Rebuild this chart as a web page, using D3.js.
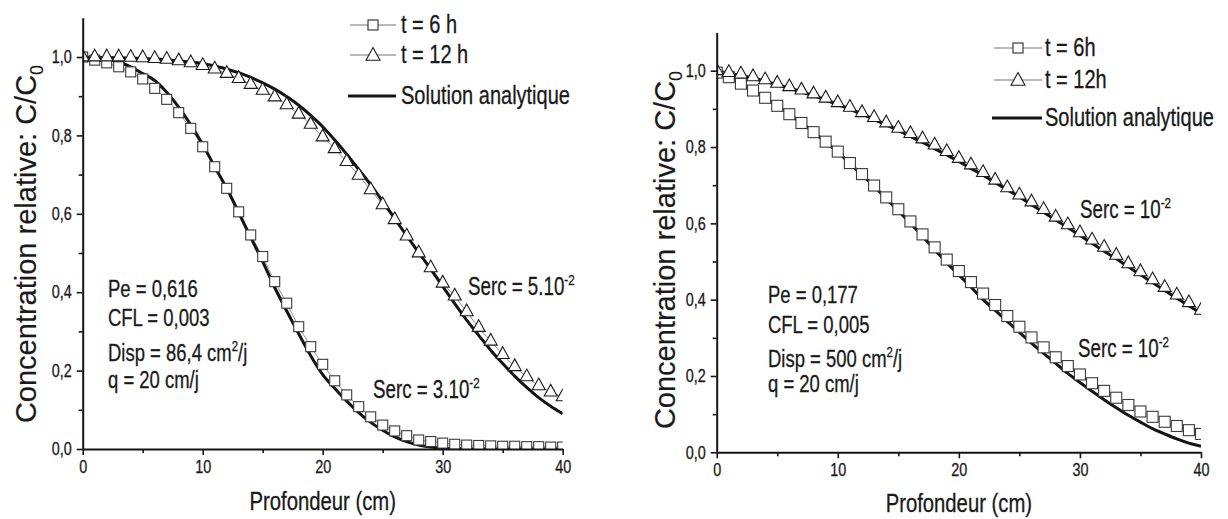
<!DOCTYPE html>
<html>
<head>
<meta charset="utf-8">
<script src="https://cdn.jsdelivr.net/npm/d3@7"></script>
<style>
body { margin: 0; background: #fff; }
svg text { font-family: "Liberation Sans", Arial, sans-serif; fill: #1a1a1a; }
</style>
</head>
<body>
<div id="chart"></div>
<script>
// depth of each computed node (cm)
var depth = [0,1,2,3,4,5,6,7,8,9,10,11,12,13,14,15,16,17,18,19,20,
             21,22,23,24,25,26,27,28,29,30,31,32,33,34,35,36,37,38,39,40];

// left panel: Pe = 0,616
var leftNum6h = [1.0,0.992,0.985,0.975,0.962,0.944,0.920,0.892,0.858,0.818,0.771,
                 0.720,0.665,0.605,0.546,0.491,0.427,0.372,0.312,0.261,0.216,
                 0.174,0.138,0.108,0.082,0.061,0.046,0.034,0.023,0.019,0.015,
                 0.012,0.010,0.009,0.008,0.007,0.007,0.006,0.006,0.005,0.005];
var leftAna6h = [1.0,0.998,0.995,0.988,0.975,0.958,0.940,0.910,0.872,0.827,0.777,
                 0.720,0.665,0.603,0.540,0.478,0.412,0.352,0.294,0.238,0.190,
                 0.155,0.122,0.093,0.068,0.048,0.031,0.019,0.010,0.005,0.002,
                 0.001,0,0,0,0,0,0,0,0,0];
var leftNum12h = [1.0,1.0,1.0,1.0,0.999,0.998,0.996,0.994,0.990,0.985,0.978,
                  0.969,0.958,0.945,0.930,0.915,0.898,0.878,0.854,0.828,0.796,
                  0.766,0.733,0.698,0.661,0.623,0.585,0.543,0.500,0.462,0.423,
                  0.390,0.350,0.310,0.275,0.241,0.210,0.184,0.161,0.145,0.133];
var leftAna12h = [1.0,0.999,0.999,0.998,0.997,0.996,0.995,0.993,0.990,0.987,0.983,
                  0.977,0.969,0.960,0.948,0.934,0.918,0.899,0.877,0.851,0.822,
                  0.788,0.752,0.713,0.674,0.632,0.588,0.544,0.501,0.459,0.415,
                  0.371,0.329,0.290,0.252,0.218,0.186,0.157,0.131,0.109,0.090];

// right panel: Pe = 0,177
var rightNum6h = [0.995,0.983,0.966,0.948,0.929,0.908,0.886,0.863,0.839,0.814,0.788,
                  0.758,0.729,0.699,0.668,0.637,0.605,0.571,0.537,0.505,0.475,
                  0.446,0.416,0.386,0.357,0.329,0.301,0.275,0.249,0.226,0.204,
                  0.181,0.161,0.143,0.124,0.107,0.093,0.080,0.069,0.058,0.048];
var rightAna6h = [1.0,0.984,0.967,0.949,0.929,0.908,0.886,0.863,0.839,0.813,0.787,
                  0.757,0.727,0.697,0.665,0.633,0.600,0.566,0.531,0.497,0.465,
                  0.433,0.400,0.372,0.343,0.314,0.286,0.259,0.233,0.207,0.183,
                  0.160,0.138,0.117,0.097,0.079,0.062,0.048,0.035,0.024,0.016];
var rightNum12h = [1.0,0.995,0.991,0.984,0.976,0.967,0.958,0.949,0.939,0.928,0.916,
                   0.904,0.890,0.877,0.863,0.849,0.835,0.821,0.805,0.788,0.770,
                   0.753,0.733,0.713,0.693,0.674,0.656,0.636,0.616,0.596,0.575,
                   0.556,0.537,0.516,0.494,0.473,0.452,0.432,0.412,0.392,0.372];
var rightAna12h = [1.0,0.993,0.987,0.980,0.972,0.963,0.954,0.944,0.934,0.923,0.911,
                   0.899,0.886,0.872,0.858,0.843,0.828,0.812,0.796,0.779,0.762,
                   0.744,0.726,0.707,0.688,0.669,0.649,0.629,0.609,0.589,0.568,
                   0.548,0.527,0.507,0.486,0.465,0.445,0.424,0.404,0.384,0.364];

var xTicks = [0,10,20,30,40];
var xMinor = [5,15,25,35];
var yTicks = [0,0.2,0.4,0.6,0.8,1.0];
var yMinor = [0.1,0.3,0.5,0.7,0.9];

var leftNotes = [
    [{t:"Pe = 0,616"}],
    [{t:"CFL = 0,003"}],
    [{t:"Disp = 86,4 cm"},{t:"2",sup:true},{t:"/j"}],
    [{t:"q = 20 cm/j"}]
];
var rightNotes = [
    [{t:"Pe = 0,177"}],
    [{t:"CFL = 0,005"}],
    [{t:"Disp = 500 cm"},{t:"2",sup:true},{t:"/j"}],
    [{t:"q = 20 cm/j"}]
];

var W = 1228, H = 519;
var svg = d3.select("#chart").append("svg")
    .attr("width", W).attr("height", H);

// a line of (horizontally condensed) text, with superscripts / subscripts
function richText(g, x, y, parts, size, sx, rot) {
    var t = g.append("text")
        .attr("transform", "translate(" + x + "," + y + ")" + (rot ? " rotate(" + rot + ")" : "") +
              " scale(" + sx + ",1)")
        .style("font-size", size + "px")
        .attr("stroke", "#1a1a1a").attr("stroke-width", 0.3);
    var cur = 0;
    parts.forEach(function(p) {
        var off = p.sup ? -size * 0.42 : (p.sub ? size * 0.25 : 0);
        var s = t.append("tspan").text(p.t);
        if (off - cur !== 0) s.attr("dy", off - cur);
        if (p.sup || p.sub) s.style("font-size", (size * 0.62) + "px");
        cur = off;
    });
    return t;
}

function triPath(cx, cy, w) {
    var h = w * 0.9;
    return "M" + cx + "," + (cy - h * 2 / 3) +
           "L" + (cx + w / 2) + "," + (cy + h / 3) +
           "L" + (cx - w / 2) + "," + (cy + h / 3) + "Z";
}

function drawPanel(p) {
    var g = svg.append("g");
    var x = d3.scaleLinear().domain([0, 40]).range([p.x0, p.x1]);
    var y = d3.scaleLinear().domain([0, 1.1]).range([p.y0, p.y0 - 1.1 * p.unitY]);

    var clipId = "clip" + p.id;
    svg.append("clipPath").attr("id", clipId).append("rect")
        .attr("x", x(0)).attr("y", y(1.1) - 10)
        .attr("width", x(40) - x(0)).attr("height", y(0) - y(1.1) + 10);
    var plot = g.append("g").attr("clip-path", "url(#" + clipId + ")");

    var line = d3.line()
        .x(function(d, i) { return x(depth[i]); })
        .y(function(d) { return y(d); });
    var smooth = d3.line()
        .x(function(d, i) { return x(depth[i]); })
        .y(function(d) { return y(d); })
        .curve(d3.curveMonotoneX);

    // thin lines joining the numerical points
    [p.num6, p.num12].forEach(function(s) {
        plot.append("path").attr("d", line(s))
            .attr("fill", "none").attr("stroke", "#777").attr("stroke-width", 0.8);
    });
    // analytical solution
    [p.ana6, p.ana12].forEach(function(s) {
        plot.append("path").attr("d", smooth(s))
            .attr("fill", "none").attr("stroke", "#141414").attr("stroke-width", 3);
    });

    var sq = p.sq;
    plot.selectAll("rect.sq").data(p.num6).enter().append("rect")
        .attr("class", "sq")
        .attr("x", function(d, i) { return x(depth[i]) - sq / 2; })
        .attr("y", function(d) { return y(d) - sq / 2; })
        .attr("width", sq).attr("height", sq)
        .attr("fill", "#fff").attr("stroke", "#3a3a3a").attr("stroke-width", 1.1);
    plot.selectAll("path.tri").data(p.num12).enter().append("path")
        .attr("class", "tri")
        .attr("d", function(d, i) { return triPath(x(depth[i]), y(d), p.tri); })
        .attr("fill", "#fff").attr("stroke", "#1a1a1a").attr("stroke-width", 1.1);

    // axes
    var tsx = 0.8;
    var fmt = function(d) { return d3.format(".1f")(d).replace(".", ","); };
    var xa = g.append("g").attr("transform", "translate(0," + y(0) + ")")
        .call(d3.axisBottom(x).tickValues(xTicks).tickSize(6).tickSizeOuter(0).tickPadding(4));
    g.append("g").attr("transform", "translate(0," + y(0) + ")")
        .call(d3.axisBottom(x).tickValues(xMinor).tickSize(4).tickSizeOuter(0).tickFormat(""))
        .select(".domain").remove();
    var ya = g.append("g").attr("transform", "translate(" + x(0) + ",0)")
        .call(d3.axisLeft(y).tickValues(yTicks).tickFormat(fmt).tickSize(6).tickSizeOuter(0));
    g.append("g").attr("transform", "translate(" + x(0) + ",0)")
        .call(d3.axisLeft(y).tickValues(yMinor).tickSize(4).tickSizeOuter(0).tickFormat(""))
        .select(".domain").remove();
    g.selectAll(".domain").attr("stroke", "#141414").attr("stroke-width", 2);
    g.selectAll(".tick line").attr("stroke", "#141414").attr("stroke-width", 1.6);
    g.selectAll(".tick text").style("font-size", "18px")
        .style("font-family", "'Liberation Sans',Arial,sans-serif")
        .attr("fill", "#1a1a1a").attr("stroke", "#1a1a1a").attr("stroke-width", 0.3)
        .attr("transform", "scale(" + tsx + ",1)");
    xa.selectAll(".tick text").attr("y", 10).attr("dy", "0.78em");
    ya.selectAll(".tick text").attr("x", -11 / tsx);

    // axis titles
    richText(g, (x(0) + x(40)) / 2, p.xTitleY, [{t:"Profondeur (cm)"}], 26, 0.78)
        .attr("text-anchor", "middle");
    richText(g, p.yTitleX, p.yTitleY, [{t:"Concentration relative: C/C"},{t:"0",sub:true}], 29, 1, -90)
        .attr("text-anchor", "middle").attr("stroke-width", 0.15);

    // legend
    var L = p.legend;
    g.append("line").attr("x1", L.x0).attr("x2", L.x1).attr("y1", L.rows[0]).attr("y2", L.rows[0])
        .attr("stroke", "#777").attr("stroke-width", 1);
    g.append("rect").attr("x", (L.x0 + L.x1) / 2 - 5).attr("y", L.rows[0] - 5)
        .attr("width", 10).attr("height", 10)
        .attr("fill", "#fff").attr("stroke", "#2a2a2a").attr("stroke-width", 1.1);
    g.append("line").attr("x1", L.x0).attr("x2", L.x1).attr("y1", L.rows[1]).attr("y2", L.rows[1])
        .attr("stroke", "#777").attr("stroke-width", 1);
    g.append("path").attr("d", triPath((L.x0 + L.x1) / 2, L.rows[1] + 1, 14))
        .attr("fill", "#fff").attr("stroke", "#1a1a1a").attr("stroke-width", 1.1);
    g.append("line").attr("x1", L.x0 - 2).attr("x2", L.x1).attr("y1", L.rows[2]).attr("y2", L.rows[2])
        .attr("stroke", "#141414").attr("stroke-width", 3);
    L.labels.forEach(function(lab, i) {
        richText(g, L.tx, L.rows[i] + L.base[i], [{t:lab}], 25, 0.8);
    });

    // run parameters
    p.notes.forEach(function(n, i) {
        richText(g, p.noteX, p.noteY[i], n, 24, 0.77);
    });
    p.serc.forEach(function(s) {
        richText(g, s.x, s.y, s.parts, 25, 0.75);
    });
}

drawPanel({
    id: "L", x0: 82.7, x1: 562.7, y0: 449, unitY: 392, sq: 10, tri: 13,
    num6: leftNum6h, ana6: leftAna6h, num12: leftNum12h, ana12: leftAna12h,
    xTitleY: 510, yTitleX: 36, yTitleY: 244,
    legend: {x0: 350, x1: 396, tx: 401, rows: [25, 55, 96], base: [8, 8, 8],
             labels: ["t = 6 h", "t = 12 h", "Solution analytique"]},
    notes: leftNotes, noteX: 108, noteY: [297, 326, 361, 388],
    serc: [
        {x: 468, y: 295, parts: [{t:"Serc = 5.10"},{t:"-2",sup:true}]},
        {x: 373, y: 398, parts: [{t:"Serc = 3.10"},{t:"-2",sup:true}]}
    ]
});

drawPanel({
    id: "R", x0: 716.7, x1: 1201, y0: 452.3, unitY: 381.6, sq: 11, tri: 13,
    num6: rightNum6h, ana6: rightAna6h, num12: rightNum12h, ana12: rightAna12h,
    xTitleY: 512, yTitleX: 675, yTitleY: 250,
    legend: {x0: 994, x1: 1042, tx: 1045, rows: [48, 80, 118], base: [8, 8, 8],
             labels: ["t = 6h", "t = 12h", "Solution analytique"]},
    notes: rightNotes, noteX: 768, noteY: [303, 333, 367, 392],
    serc: [
        {x: 1080, y: 218, parts: [{t:"Serc = 10"},{t:"-2",sup:true}]},
        {x: 1078, y: 357, parts: [{t:"Serc = 10"},{t:"-2",sup:true}]}
    ]
});
</script>
</body>
</html>
